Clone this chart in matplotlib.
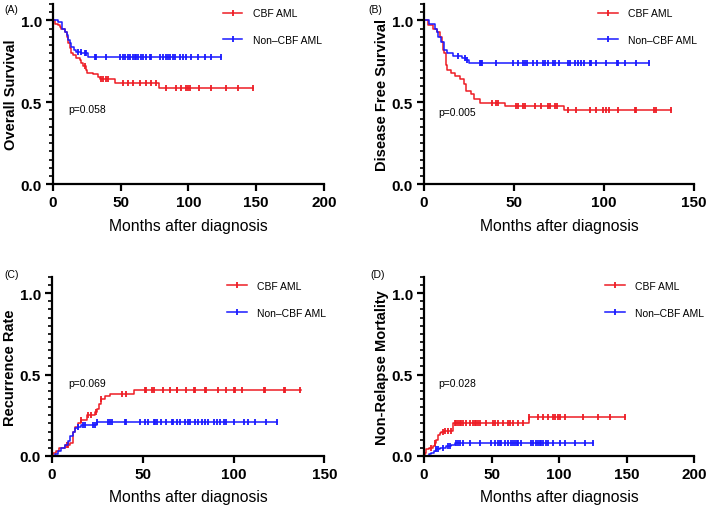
import numpy as np
import matplotlib.pyplot as plt
from matplotlib.lines import Line2D
from matplotlib.ticker import MultipleLocator

plt.rcParams['font.family'] = ['Liberation Sans', 'DejaVu Sans']

RED = "#ee1c25"
BLUE = "#1a1aff"

# ── data (event times in months / step levels / censor times) ──────────
# (A) Overall survival
os_cbf_t = [0, 1.2, 3.7, 5, 6, 8.6, 10, 11, 12.3, 13.5, 15, 16.7, 19.7, 21, 22, 24, 25.3, 29.5, 33, 34.4, 45.5, 78]
os_cbf_s = [1.0, 0.98, 0.97, 0.96, 0.95, 0.93, 0.90, 0.86, 0.83, 0.80, 0.79, 0.77, 0.76, 0.74, 0.72, 0.70, 0.68, 0.67, 0.655, 0.645, 0.617, 0.587]
os_cbf_end = 148
os_cbf_c = [23.4, 35.7, 36.9, 39.4, 40.6, 51.7, 55.4, 59, 64, 68.9, 72.6, 76.3, 83.6, 91, 94.7,
            98.4, 99.6, 100.9, 108, 117, 128, 136.5, 147.6]

os_non_t = [0, 3.5, 6.9, 8.6, 10, 11, 12.3, 13.5, 15.3, 16.7, 21, 25.8]
os_non_s = [1.0, 0.99, 0.95, 0.93, 0.91, 0.88, 0.86, 0.84, 0.82, 0.81, 0.80, 0.778]
os_non_end = 124.2
os_non_c = [18.5, 20.9, 23.4, 24.6, 30.8, 32, 39.4, 49.2, 51.7, 52.9, 55.4, 56.6, 59, 60.3, 61.5,
            62.7, 65.2, 66.4, 68.9, 71.3, 72.6, 78.7, 81.2, 83.6, 84.9, 86.1, 88.6, 89.8, 93.5,
            95.9, 98.4, 102.1, 107, 111.9, 116.9, 124.2]

# (B) Disease free survival
dfs_cbf_t = [0, 2, 5, 7, 9, 10, 10.7, 11, 12, 13, 15, 17, 20, 22, 23.5, 26, 28, 31, 45, 78]
dfs_cbf_s = [1.0, 0.97, 0.95, 0.93, 0.90, 0.87, 0.82, 0.80, 0.73, 0.70, 0.68, 0.66, 0.64, 0.61, 0.57, 0.55, 0.52, 0.497, 0.477, 0.45]
dfs_cbf_end = 137
dfs_cbf_c = [38, 40, 41, 51, 52, 55, 56, 61.5, 65, 69, 70, 72.6, 74, 80, 84.6, 92, 95.7, 99.4, 101,
             103, 108, 117, 118, 128, 129, 137]

dfs_non_t = [0, 3, 6, 7, 8, 9.6, 11, 13, 16, 21, 23.5, 25]
dfs_non_s = [1.0, 0.98, 0.95, 0.93, 0.90, 0.87, 0.82, 0.80, 0.78, 0.77, 0.76, 0.74]
dfs_non_end = 124.8
dfs_non_c = [19, 22.6, 24, 31, 31.5, 32, 40, 49.4, 52, 55, 56, 57, 60.5, 63, 66, 67, 69, 71.7, 72.6,
             75, 80, 81, 83.7, 85.5, 87, 89, 92, 93, 95.7, 101, 107, 108, 111.5, 118, 124.8]

# (C) Recurrence rate
rr_cbf_t = [0, 0.6, 2.4, 4, 7, 10, 11.6, 12.5, 14.4, 16, 19, 23.6, 24.5, 26, 27, 29, 32, 45]
rr_cbf_s = [0.0, 0.02, 0.03, 0.05, 0.07, 0.08, 0.15, 0.18, 0.20, 0.22, 0.25, 0.27, 0.29, 0.32, 0.35, 0.37, 0.38, 0.404]
rr_cbf_end = 137
rr_cbf_c = [8, 9, 16, 20, 21.7, 24, 27, 38.3, 41, 51, 52, 55, 56, 61, 65, 68.7, 69, 74, 78, 78.8,
            84, 85, 91.7, 96, 100, 101, 104.6, 116.6, 117.5, 127.6, 128.5, 136.8]

rr_non_t = [0, 1.5, 3.3, 5, 7, 8.8, 10, 11.6, 12.5, 14.4, 16, 24.5]
rr_non_s = [0.0, 0.01, 0.03, 0.05, 0.07, 0.09, 0.12, 0.15, 0.17, 0.18, 0.19, 0.207]
rr_non_end = 124
rr_non_c = [14.4, 17, 18, 22.6, 23.6, 24.5, 31, 32, 33, 40, 41, 48.4, 51, 53, 56, 56.8, 57.6, 60,
            63, 66, 66.8, 68.7, 70.5, 73, 75, 76, 78.8, 80.6, 82.5, 84.4, 86, 89, 90.8, 92.6,
            94.5, 96, 100, 106, 108, 112, 118, 124]

# (D) Non-relapse mortality
nrm_cbf_t = [0, 0.5, 1.7, 4, 6.7, 8, 9, 10.4, 11.6, 12.8, 15, 21.5, 78]
nrm_cbf_s = [0.0, 0.02, 0.04, 0.05, 0.06, 0.08, 0.10, 0.13, 0.14, 0.15, 0.156, 0.201, 0.242]
nrm_cbf_end = 148.6
nrm_cbf_c = [5.4, 8, 14, 15.3, 17.8, 20.2, 22.7, 24, 25.2, 26.4, 27.7, 28.9, 31.4, 33.8, 36.3, 37.5,
             38.8, 40, 41.2, 46.2, 51, 52.3, 54.8, 58.5, 62.2, 63.5, 66, 69.6, 73.3, 78, 84.4,
             88, 91.8, 95.5, 96.7, 99.2, 100.4, 104.2, 117.7, 128.8, 137.5, 148.6]

nrm_non_t = [0, 4, 5.4, 7.4, 9, 11.6, 16.5, 20, 22.7]
nrm_non_s = [0.0, 0.01, 0.02, 0.03, 0.04, 0.05, 0.06, 0.07, 0.081]
nrm_non_end = 125
nrm_non_c = [9, 10.4, 14, 17.8, 19, 24, 25.2, 26.4, 29, 33.8, 41.2, 49.9, 52.3, 54.8, 56, 57.3, 60,
             62.2, 64.7, 66, 67.2, 68.5, 69.7, 72.1, 79.5, 80.7, 83.2, 84.4, 85.7, 86.9, 88.1,
             90.6, 91.8, 95.5, 100.5, 104.2, 111.6, 119, 125]

panels = [
    ("(A)", "Overall Survival", "p=0.058", 200,
     (os_cbf_t, os_cbf_s, os_cbf_end, os_cbf_c), (os_non_t, os_non_s, os_non_end, os_non_c)),
    ("(B)", "Disease Free Survival", "p=0.005", 150,
     (dfs_cbf_t, dfs_cbf_s, dfs_cbf_end, dfs_cbf_c), (dfs_non_t, dfs_non_s, dfs_non_end, dfs_non_c)),
    ("(C)", "Recurrence Rate", "p=0.069", 150,
     (rr_cbf_t, rr_cbf_s, rr_cbf_end, rr_cbf_c), (rr_non_t, rr_non_s, rr_non_end, rr_non_c)),
    ("(D)", "Non-Relapse Mortality", "p=0.028", 200,
     (nrm_cbf_t, nrm_cbf_s, nrm_cbf_end, nrm_cbf_c), (nrm_non_t, nrm_non_s, nrm_non_end, nrm_non_c)),
]

# axes rectangles [left, bottom, width, height] in figure fractions
rects = [
    [0.0748, 0.637, 0.382, 0.353],
    [0.598, 0.637, 0.381, 0.353],
    [0.0734, 0.104, 0.384, 0.351],
    [0.598, 0.104, 0.381, 0.351],
]
legend_x = [0.611, 0.628, 0.627, 0.654]
p_pos = [(11, 0.457), (8, 0.439), (9, 0.45), (10.4, 0.45)]
label_xy = [(0.006, 0.975), (0.52, 0.975), (0.006, 0.455), (0.522, 0.455)]


def draw_curve(ax, t, s, end, cens, color):
    tt = list(t) + [end]
    ss = list(s) + [s[-1]]
    ax.step(tt, ss, where="post", color=color, lw=1.1)
    idx = np.searchsorted(t, cens, side="right") - 1
    cy = np.array(s)[idx]
    ax.plot(cens, cy, ls="none", marker="|", ms=4.5, mew=1.3, color=color)


fig = plt.figure(figsize=(7.09, 5.10), dpi=100)

for i, (lab, ylab, ptxt, xmax, cbf, non) in enumerate(panels):
    ax = fig.add_axes(rects[i])
    draw_curve(ax, *cbf, RED)
    draw_curve(ax, *non, BLUE)

    ax.set_xlim(0, xmax)
    ax.set_ylim(0, 1.1)
    ax.xaxis.set_major_locator(MultipleLocator(50))
    ax.yaxis.set_major_locator(MultipleLocator(0.5))
    ax.yaxis.set_minor_locator(MultipleLocator(0.05))
    ax.yaxis.set_major_formatter(lambda v, p: f"{v:.1f}")
    for sp in ["top", "right"]:
        ax.spines[sp].set_visible(False)
    for sp in ["left", "bottom"]:
        ax.spines[sp].set_linewidth(1.6)
    ax.tick_params(axis="both", which="major", width=1.6, length=5, labelsize=11, pad=3)
    ax.tick_params(axis="y", which="minor", width=1.2, length=3)
    for tl in ax.get_xticklabels() + ax.get_yticklabels():
        tl.set_fontweight("bold")

    ax.set_ylabel(ylab, fontsize=10.5, fontweight="bold")
    ax.yaxis.set_label_coords(-0.13, 0.5)
    ax.set_xlabel("Months after diagnosis", fontsize=11.3, labelpad=6)
    ax.text(p_pos[i][0], p_pos[i][1], ptxt, fontsize=7.5, va="center")

    handles = [
        Line2D([], [], color=RED, lw=1.1, marker="|", ms=4, mew=1.3),
        Line2D([], [], color=BLUE, lw=1.1, marker="|", ms=4, mew=1.3),
    ]
    ax.legend(handles, ["CBF AML", "Non–CBF AML"], loc="upper left",
              bbox_to_anchor=(legend_x[i], 1.0), frameon=False, fontsize=7.5,
              handlelength=1.9, handletextpad=1.0, labelspacing=1.6, borderaxespad=0)

    fig.text(label_xy[i][0], label_xy[i][1], lab, fontsize=7.5)

fig.savefig("out.png", dpi=100)
